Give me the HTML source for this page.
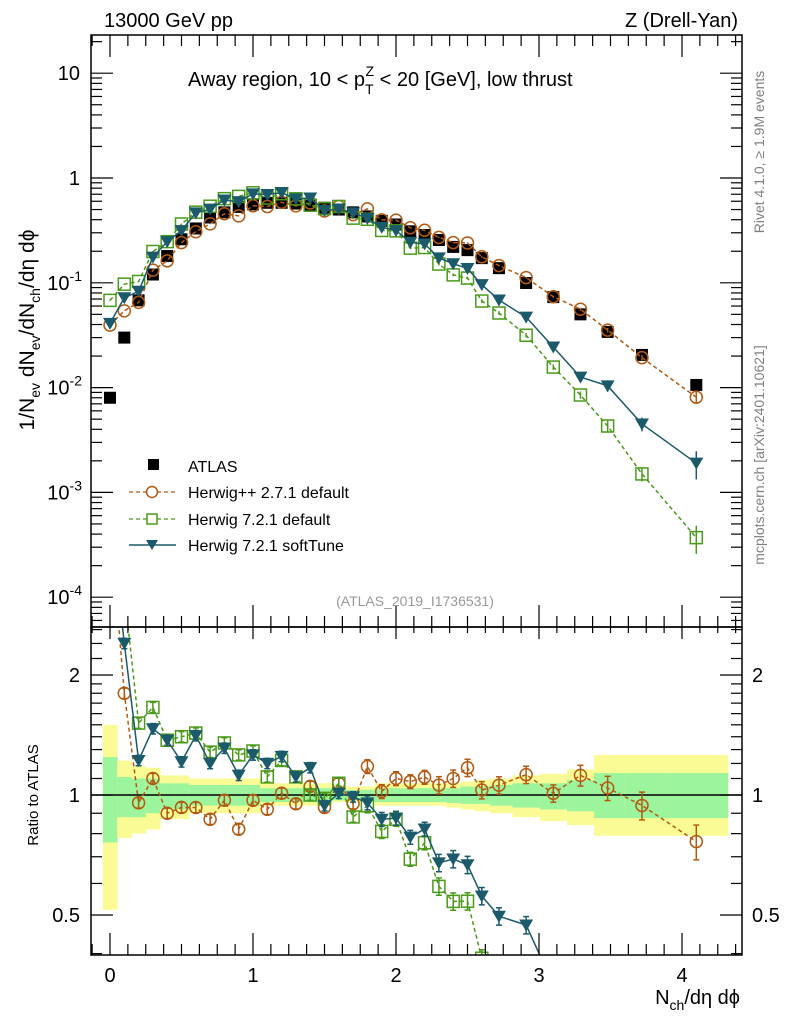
<!DOCTYPE html>
<html><head><meta charset="utf-8"><style>
html,body{margin:0;background:#fff;width:786px;height:1024px;overflow:hidden}
svg{display:block;font-family:"Liberation Sans",sans-serif}
</style></head><body>
<svg id="c" width="786" height="1024" viewBox="0 0 786 1024" xmlns="http://www.w3.org/2000/svg">
<defs>
<clipPath id="ctop"><rect x="91" y="35" width="651" height="592"/></clipPath>
<clipPath id="cbot"><rect x="91" y="627" width="651" height="328"/></clipPath>
</defs>
<g id="bands" clip-path="url(#cbot)"></g>
<line x1="91" y1="795" x2="742" y2="795" stroke="#000" stroke-width="1.5"/>
<g id="topmarks" clip-path="url(#ctop)"></g>
<g id="botmarks" clip-path="url(#cbot)"></g>
<g id="axes"></g>
<rect x="91" y="35" width="651" height="592" fill="none" stroke="#000" stroke-width="1.5"/>
<rect x="91" y="627" width="651" height="328" fill="none" stroke="#000" stroke-width="1.5"/>
<text x="104" y="27" font-size="20">13000 GeV pp</text>
<text x="738" y="27" font-size="20" text-anchor="end">Z (Drell-Yan)</text>
<text x="188" y="86" font-size="20">Away region, 10 &lt; p<tspan dy="8" font-size="14">T</tspan><tspan dx="-8" dy="-18" font-size="14">Z</tspan><tspan dy="10"> &lt; 20 [GeV], low thrust</tspan></text>
<text transform="translate(34,330) rotate(-90)" font-size="21" text-anchor="middle">1/N<tspan dy="6" font-size="14">ev</tspan><tspan dy="-6"> dN</tspan><tspan dy="6" font-size="14">ev</tspan><tspan dy="-6">/dN</tspan><tspan dy="6" font-size="14">ch</tspan><tspan dy="-6">/dη dϕ</tspan></text>
<text transform="translate(38,795) rotate(-90)" font-size="15" text-anchor="middle">Ratio to ATLAS</text>
<text x="740" y="1004" font-size="20" text-anchor="end">N<tspan dy="6" font-size="14">ch</tspan><tspan dy="-6">/dη dϕ</tspan></text>
<text transform="translate(764,152) rotate(-90)" font-size="14" fill="#808080" text-anchor="middle">Rivet 4.1.0, ≥ 1.9M events</text>
<text transform="translate(764,455) rotate(-90)" font-size="14" fill="#808080" text-anchor="middle">mcplots.cern.ch [arXiv:2401.10621]</text>
<text x="415" y="606" font-size="14" fill="#999" text-anchor="middle">(ATLAS_2019_I1736531)</text>
<g>
<rect x="148" y="459" width="11" height="11" fill="#000"/>
<text x="188" y="472" font-size="16">ATLAS</text>
<line x1="129" y1="492" x2="176" y2="492" stroke="#b35a12" stroke-width="1.2" stroke-dasharray="4,3"/>
<circle cx="152" cy="492" r="5.5" fill="#fff" stroke="#b35a12" stroke-width="1.5"/>
<text x="188" y="498" font-size="16">Herwig++ 2.7.1 default</text>
<line x1="129" y1="519" x2="176" y2="519" stroke="#4a9a1a" stroke-width="1.2" stroke-dasharray="4,3"/>
<rect x="147" y="514" width="10" height="10" fill="#fff" stroke="#4a9a1a" stroke-width="1.5"/>
<text x="188" y="525" font-size="16">Herwig 7.2.1 default</text>
<line x1="129" y1="545" x2="176" y2="545" stroke="#1b5a6a" stroke-width="1.5"/>
<path d="M146,540 L158,540 L152,550 Z" fill="#1b5a6a"/>
<text x="188" y="551" font-size="16">Herwig 7.2.1 softTune</text>
</g>
</svg>
<script>
const xs=[0,0.1,0.2,0.3,0.4,0.5,0.6,0.7,0.8,0.9,1.0,1.1,1.2,1.3,1.4,1.5,1.6,1.7,1.8,1.9,2.0,2.1,2.2,2.3,2.4,2.5,2.6,2.72,2.91,3.1,3.29,3.48,3.72,4.1];
const atlas=[0.0080,0.030,0.068,0.12,0.18,0.26,0.33,0.42,0.47,0.53,0.56,0.58,0.58,0.57,0.55,0.52,0.50,0.47,0.43,0.39,0.36,0.31,0.286,0.256,0.22,0.205,0.172,0.138,0.0996,0.073,0.050,0.034,0.0205,0.0106];
const herwigpp=[0.0395,0.054,0.065,0.132,0.162,0.242,0.307,0.365,0.456,0.435,0.543,0.534,0.586,0.542,0.578,0.484,0.535,0.447,0.507,0.398,0.396,0.335,0.317,0.271,0.242,0.240,0.177,0.146,0.112,0.0737,0.056,0.0354,0.0193,0.0081];
const herwig7=[0.068,0.097,0.103,0.199,0.247,0.364,0.472,0.538,0.635,0.668,0.722,0.644,0.708,0.633,0.55,0.51,0.535,0.414,0.404,0.316,0.313,0.214,0.217,0.151,0.119,0.111,0.067,0.0515,0.0316,0.0157,0.0085,0.0043,0.00150,0.00037];
const softtune=[0.041,0.072,0.083,0.176,0.247,0.315,0.465,0.504,0.616,0.594,0.706,0.696,0.725,0.633,0.644,0.489,0.505,0.465,0.411,0.339,0.315,0.243,0.235,0.173,0.152,0.137,0.096,0.0685,0.047,0.0244,0.0126,0.0104,0.0045,0.0019];
const relErr=[0.01,0.01,0.01,0.01,0.01,0.01,0.01,0.01,0.01,0.01,0.01,0.01,0.01,0.01,0.01,0.01,0.01,0.01,0.02,0.02,0.02,0.02,0.02,0.03,0.03,0.03,0.04,0.04,0.05,0.06,0.08,0.12,0.15,0.3];
const ratioErr=[0.03,0.03,0.03,0.03,0.03,0.03,0.03,0.03,0.03,0.03,0.03,0.03,0.03,0.03,0.03,0.03,0.03,0.03,0.04,0.04,0.04,0.04,0.04,0.05,0.05,0.05,0.05,0.05,0.05,0.05,0.06,0.07,0.08,0.1];
const yellowUp=[1.50,1.22,1.18,1.17,1.12,1.12,1.10,1.10,1.10,1.10,1.10,1.07,1.07,1.07,1.07,1.07,1.05,1.05,1.05,1.07,1.07,1.07,1.07,1.07,1.07,1.08,1.09,1.10,1.12,1.13,1.16,1.26,1.26,1.26];
const yellowDn=[0.515,0.78,0.80,0.82,0.87,0.87,0.90,0.90,0.90,0.90,0.90,0.94,0.94,0.94,0.94,0.94,0.96,0.96,0.96,0.94,0.94,0.94,0.94,0.94,0.93,0.92,0.91,0.90,0.88,0.86,0.84,0.79,0.79,0.79];
const greenUp=[1.245,1.11,1.10,1.10,1.07,1.07,1.06,1.06,1.06,1.06,1.06,1.04,1.04,1.04,1.04,1.04,1.03,1.03,1.03,1.04,1.04,1.04,1.04,1.04,1.04,1.05,1.05,1.06,1.07,1.07,1.09,1.135,1.135,1.135];
const greenDn=[0.76,0.88,0.88,0.90,0.92,0.92,0.94,0.94,0.94,0.94,0.94,0.96,0.96,0.96,0.96,0.96,0.97,0.97,0.97,0.96,0.96,0.96,0.96,0.96,0.955,0.95,0.95,0.94,0.93,0.92,0.91,0.875,0.875,0.875];
const yTickVals=[10,1,0.1,0.01,0.001,0.0001];
const yTickLabels=["10","1","10|-1","10|-2","10|-3","10|-4"];
const rTickVals=[2,1,0.5];
const rTickLabels=["2","1","0.5"];
const xTickVals=[0,1,2,3,4];
const xTickLabels=["0","1","2","3","4"];

const NS="http://www.w3.org/2000/svg";
const X=v=>110+143*v;
const Y=v=>178-104.8*Math.log10(v);
const R=r=>795-120*Math.log2(r);
function mk(tag,attrs,parent){const e=document.createElementNS(NS,tag);for(const k in attrs)e.setAttribute(k,attrs[k]);parent.appendChild(e);return e;}
const gTop=document.getElementById('topmarks'),gBot=document.getElementById('botmarks'),gBands=document.getElementById('bands'),gAxes=document.getElementById('axes');

for(let i=0;i<xs.length;i++){
  const lo=i==0?xs[0]-0.05:(xs[i-1]+xs[i])/2, hi=i==xs.length-1?4.32:(xs[i]+xs[i+1])/2;
  const y1=mk('rect',{x:X(lo),y:R(yellowUp[i]),width:X(hi)-X(lo)+0.5,height:R(yellowDn[i])-R(yellowUp[i]),fill:'#fbfb96'},gBands);
  
  
  const g1=mk('rect',{x:X(lo),y:R(greenUp[i]),width:X(hi)-X(lo)+0.5,height:R(greenDn[i])-R(greenUp[i]),fill:'#9cf59c'},gBands);
  
  
}

function marker(kind,cx,cy,col,parent){
  let e;
  if(kind=='circle')e=mk('circle',{cx:cx,cy:cy,r:6,fill:'none',stroke:col,'stroke-width':1.5},parent);
  else if(kind=='square')e=mk('rect',{x:cx-6,y:cy-6,width:12,height:12,fill:'none',stroke:col,'stroke-width':1.5},parent);
  else if(kind=='tri')e=mk('path',{d:'M'+(cx-7)+','+(cy-5.5)+' L'+(cx+7)+','+(cy-5.5)+' L'+cx+','+(cy+6.5)+' Z',fill:col},parent);
  else e=mk('rect',{x:cx-6,y:cy-6,width:12,height:12,fill:'#000'},parent);
  return e;
}
const series=[
  {name:'herwigpp',vals:herwigpp,col:'#b35a12',kind:'circle',dash:'4,3'},
  {name:'herwig7-default',vals:herwig7,col:'#4a9a1a',kind:'square',dash:'4,3'},
  {name:'herwig7-softtune',vals:softtune,col:'#1b5a6a',kind:'tri',dash:'none'}
];
atlas.forEach((v,i)=>{const e=marker('atlas',X(xs[i]),Y(v),'#000',gTop);
  
  });
series.forEach(s=>{
  const pts=s.vals.map((v,i)=>X(xs[i])+','+Y(v)).join(' ');
  const l=mk('polyline',{points:pts,fill:'none',stroke:s.col,'stroke-width':1.5,'stroke-dasharray':s.dash},gTop);
  
  
  const rp=s.vals.map((v,i)=>X(xs[i])+','+R(v/atlas[i])).join(' ');
  const l2=mk('polyline',{points:rp,fill:'none',stroke:s.col,'stroke-width':1.5,'stroke-dasharray':s.dash},gBot);
  
  
  s.vals.forEach((v,i)=>{
    const x=X(xs[i]),e=relErr[i]*(s.name=='herwigpp'?0.4:1);
    mk('line',{x1:x,x2:x,y1:Y(v*(1+e)),y2:Y(v*(1-e)),stroke:s.col,'stroke-width':1.5},gTop);
    const m=marker(s.kind,x,Y(v),s.col,gTop);
    
    
    const r=v/atlas[i],re=ratioErr[i];
    mk('line',{x1:x,x2:x,y1:R(r*(1+re)),y2:R(r*(1-re)),stroke:s.col,'stroke-width':1.5},gBot);
    [r*(1+re),r*(1-re)].forEach(q=>mk('line',{x1:x-3,x2:x+3,y1:R(q),y2:R(q),stroke:s.col,'stroke-width':1.5},gBot));
    const m2=marker(s.kind,x,R(r),s.col,gBot);
    
    
  });
});

const tk=(x1,y1,x2,y2)=>mk('line',{x1:x1,y1:y1,x2:x2,y2:y2,stroke:'#000','stroke-width':1.2},gAxes);
for(let k=-1;k<=36;k++){
  const v=k*0.125,x=X(v); if(x<91||x>742)continue;
  const major=k%8==0,L=major?22:11;
  tk(x,35,x,35+L); tk(x,627,x,627-L); tk(x,627,x,627+L*0.55); tk(x,955,x,955-L);
}
xTickVals.forEach((v,i)=>{const t=mk('text',{x:X(v),y:982,'font-size':20,'text-anchor':'middle'},gAxes);t.textContent=xTickLabels[i];
  
  });
for(let d=-5;d<=1;d++){for(let m=1;m<10;m++){const v=m*Math.pow(10,d),y=Y(v);if(y<35||y>627)continue;const L=m==1?22:11;tk(91,y,91+L,y);tk(742,y,742-L,y);}}
yTickVals.forEach((v,i)=>{
  const parts=yTickLabels[i].split('|');
  const t=mk('text',{x:80,y:Y(v)+7,'font-size':20,'text-anchor':'end'},gAxes);
  
  
  t.textContent=parts[0];
  if(parts[1]){const s=mk('tspan',{dy:-9,'font-size':14},t);s.textContent=parts[1];t.setAttribute('x',82);}
});
[0.4,0.5,0.6,0.7,0.8,0.9,1,1.1,1.2,1.3,1.4,1.5,1.6,1.7,1.8,1.9,2,2.2,2.4,2.6].forEach(v=>{const y=R(v);if(y<627||y>955)return;const L=[0.5,1,2].includes(v)?22:11;tk(91,y,91+L,y);tk(742,y,742-L,y);});
rTickVals.forEach((v,i)=>{
  const t=mk('text',{x:80,y:R(v)+7,'font-size':20,'text-anchor':'end'},gAxes);t.textContent=rTickLabels[i];
  
  
  const t2=mk('text',{x:752,y:R(v)+7,'font-size':20},gAxes);t2.textContent=rTickLabels[i];
  
  
});
</script>
</body></html>
